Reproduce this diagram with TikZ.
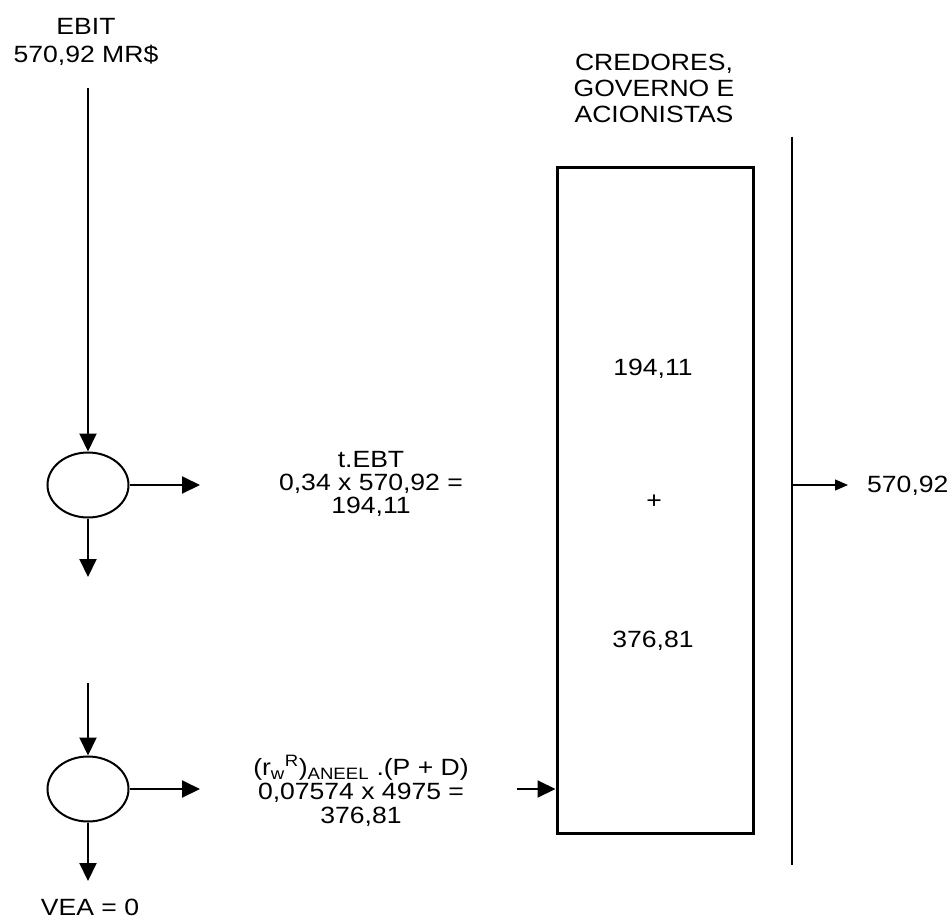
\documentclass[tikz,border=0pt]{standalone}
\usepackage{fontspec}
\setmainfont{Liberation Sans}[FakeStretch=1.13]
\usetikzlibrary{arrows.meta,shapes.geometric}

\begin{document}
\begin{tikzpicture}[
  x=1pt,y=-1pt,
  font=\fontsize{23.5}{24}\selectfont,
  lbl/.style={align=center,inner sep=0pt},
  split/.style={draw,ellipse,line width=2pt,minimum width=81pt,minimum height=65pt,inner sep=0pt},
  flow/.style={-{Triangle[length=18pt,width=17pt]},line width=2pt},
  thinflow/.style={-{Triangle[length=13pt,width=11pt]},line width=1.2pt},
  bigbox/.style={draw,line width=3pt,minimum width=196pt,minimum height=665pt,inner sep=0pt}]
\path[use as bounding box] (0,0) rectangle (952,920);
\node[lbl,font=\fontsize{23.5}{28}\selectfont] (ebit) at (86,41.5) {EBIT\\570,92 MR\$};
\node[split] (split1) at (88,485) {};
\node[split] (split2) at (88,789) {};
\node[lbl,font=\fontsize{23.5}{23}\selectfont] (tax) at (371,483.5)
  {t.EBT\\0,34 x 570,92 =\\194,11};
\node[lbl,font=\fontsize{23.5}{24}\selectfont] (ret) at (361,791)
  {(r\textsubscript{w}\textsuperscript{R})\textsubscript{ANEEL} .(P + D)\\0,07574 x 4975 =\\376,81};
\node[lbl] (vea) at (90,907) {VEA = 0};
\node[lbl,font=\fontsize{23.5}{26}\selectfont] (head) at (654,88)
  {CREDORES,\\GOVERNO E\\ACIONISTAS};
\node[bigbox] (box) at (655,500.5) {};
\node[lbl] (v194) at (653,369) {194,11};
\node[lbl] (vplus) at (654,502) {+};
\node[lbl] (v376) at (653,641) {376,81};
\node[lbl,anchor=west] (total) at (867,486) {570,92};
\coordinate (ebitout) at (88,88);
\coordinate (tax1) at (200,485);
\coordinate (down1) at (88,577);
\coordinate (up2) at (88,683);
\coordinate (tax2) at (200,789);
\coordinate (down2) at (88,881);
\coordinate (boxin) at (517,789);
\coordinate (sumtop) at (792,137);
\coordinate (sumbot) at (792,865);
\coordinate (sumout) at (792,485);
\draw[flow] (ebitout) -- (split1.north);
\draw[flow] (split1.east) -- (tax1);
\draw[flow] (split1.south) -- (down1);
\draw[flow] (up2) -- (split2.north);
\draw[flow] (split2.east) -- (tax2);
\draw[flow] (split2.south) -- (down2);
\draw[flow] (boxin) -- (boxin -| box.west);
\draw[line width=1.2pt] (sumtop) -- (sumbot);
\draw[thinflow,shorten >=19pt] (sumout) -- (sumout -| total.west);
\end{tikzpicture}
\end{document}
